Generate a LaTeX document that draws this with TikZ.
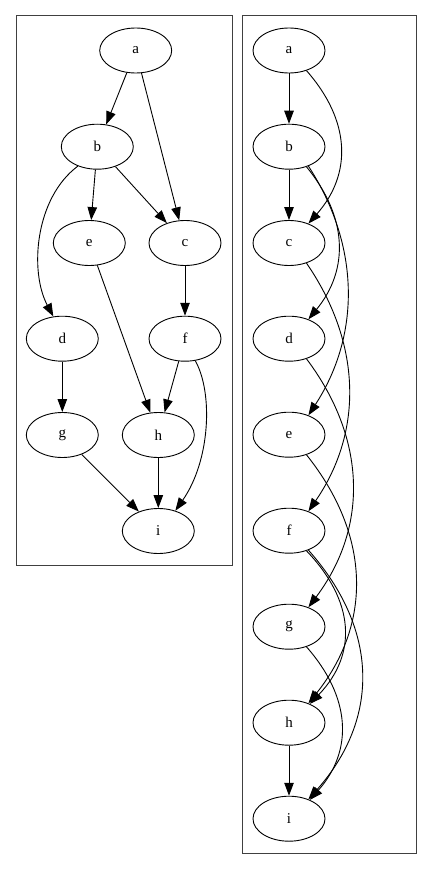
\documentclass[tikz,border=0pt]{standalone}
\usepackage{fontspec}
\setmainfont{Liberation Serif}
\usetikzlibrary{arrows.meta,shapes.geometric}
\begin{document}
\begin{tikzpicture}[x=1pt,y=-1pt,
  nd/.style={ellipse,draw,line width=0.9pt,minimum width=72pt,minimum height=45pt,inner sep=0pt,font=\fontsize{15}{17}\selectfont},
  ed/.style={line width=0.9pt,-{Triangle[length=13pt,width=9.5pt]}},
  cl/.style={draw=black!75,line width=1pt}]
\useasboundingbox (0,0) rectangle (432,869);
\fill[white] (0,0) rectangle (432,869);
\draw[cl] (16,16) rectangle (232,565);
\draw[cl] (242,16) rectangle (416,853);
% left
\node[nd] (la) at (135.7,50.5) {a};
\node[nd] (lb) at (97.3,146.7) {b};
\node[nd] (le) at (89.3,243) {e};
\node[nd] (lc) at (185,243) {c};
\node[nd] (ld) at (62.3,338.7) {d};
\node[nd] (lf) at (185,338.7) {f};
\node[nd] (lg) at (62.3,435) {g};
\node[nd] (lh) at (158.3,435) {h};
\node[nd] (li) at (158.3,531) {i};
\draw[ed] (la) -- (lb);
\draw[ed] (la) -- (lc);
\draw[ed] (lb) -- (le);
\draw[ed] (lb) -- (lc);
\draw[ed] (lb.-135) .. controls +(-43,32) and +(-24,-45) .. (ld.112);
\draw[ed] (le) -- (lh);
\draw[ed] (lc) -- (lf);
\draw[ed] (ld) -- (lg);
\draw[ed] (lf) -- (lh);
\draw[ed] (lf.-65) .. controls +(18,32) and +(35,-50) .. (li.50);
\draw[ed] (lg) -- (li);
\draw[ed] (lh) -- (li);
% right
\node[nd] (ra) at (289,50.5) {a};
\node[nd] (rb) at (289,146.7) {b};
\node[nd] (rc) at (289,243) {c};
\node[nd] (rd) at (289,338.7) {d};
\node[nd] (re) at (289,434.7) {e};
\node[nd] (rf) at (289,530.7) {f};
\node[nd] (rg) at (289,626.7) {g};
\node[nd] (rh) at (289,722.7) {h};
\node[nd] (ri) at (289,818.7) {i};
\draw[ed] (ra) -- (rb);
\draw[ed] (rb) -- (rc);
\draw[ed] (rh) -- (ri);
\draw[ed] (ra.-49) .. controls +(44,50) and +(44,-50) .. (rc.45);
\draw[ed] (rb.-49) .. controls +(41,50) and +(41,-50) .. (rd.45);
\draw[ed] (rb.-45) .. controls +(52,80) and +(52,-80) .. (re.45);
\draw[ed] (rc.-49) .. controls +(55,80) and +(55,-80) .. (rf.45);
\draw[ed] (rd.-49) .. controls +(60,80) and +(60,-80) .. (rg.45);
\draw[ed] (re.-49) .. controls +(64,80) and +(64,-80) .. (rh.45);
\draw[ed] (rf.-49) .. controls +(48,50) and +(48,-50) .. (rh.42);
\draw[ed] (rf.-45) .. controls +(71,80) and +(71,-80) .. (ri.45);
\draw[ed] (rg.-49) .. controls +(44,50) and +(44,-50) .. (ri.42);
\end{tikzpicture}
\end{document}
